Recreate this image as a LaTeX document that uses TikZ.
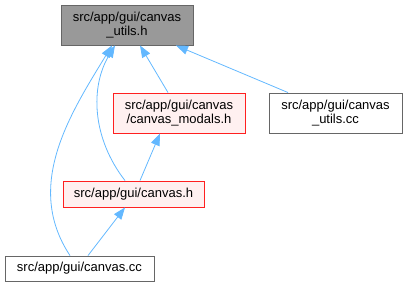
\documentclass[tikz,border=0pt]{standalone}
\usepackage{fontspec}
\setmainfont{Liberation Sans}
\usetikzlibrary{arrows.meta}
\definecolor{edgeblue}{HTML}{63B8FF}
\definecolor{hdrfill}{HTML}{999999}
\definecolor{hdrline}{HTML}{666666}
\definecolor{redfill}{HTML}{FFF0F0}
\definecolor{redline}{HTML}{FF2020}
\definecolor{plainline}{HTML}{666666}
\tikzset{
  filebox/.style={rectangle, inner sep=0pt, align=center, line width=0.9pt,
    font=\fontsize{13}{14.5}\selectfont},
  hdrbox/.style={filebox, fill=hdrfill, draw=hdrline},
  redbox/.style={filebox, fill=redfill, draw=redline},
  plainbox/.style={filebox, fill=white, draw=plainline},
  dep/.style={draw=edgeblue, line width=0.8pt,
    -{Triangle[length=12pt,width=9pt]}}
}
\begin{document}
\begin{tikzpicture}[x=1pt,y=-1pt]
\useasboundingbox (0,0) rectangle (407,287);

% files
\node[hdrbox, minimum width=132pt, minimum height=40pt] (utils) at (127,25)
  {src/app/gui/canvas\\\_utils.h};
\node[redbox, minimum width=132pt, minimum height=40pt] (modals) at (179,113)
  {src/app/gui/canvas\\/canvas\_modals.h};
\node[plainbox, minimum width=133pt, minimum height=40pt] (utilscc) at (335.5,113)
  {src/app/gui/canvas\\\_utils.cc};
\node[redbox, minimum width=141pt, minimum height=26pt] (canvash) at (133.5,194)
  {src/app/gui/canvas.h};
\node[plainbox, minimum width=149pt, minimum height=25pt] (canvascc) at (79.5,268.5)
  {src/app/gui/canvas.cc};

% include dependencies
\draw[dep] ([xshift=-11pt]modals.north) -- ([xshift=13pt]utils.south);
\draw[dep] ([xshift=-47.5pt]utilscc.north) -- ([xshift=49pt]utils.south);
\draw[dep] ([xshift=6.5pt]canvash.north) -- ([xshift=-19pt]modals.south);
\draw[dep] ([xshift=-8.5pt]canvash.north) .. controls (92,138) and (90,87) .. ([xshift=-12pt]utils.south);
\draw[dep] ([xshift=-9.5pt]canvascc.north) .. controls (24,186) and (69.5,115) .. ([xshift=-15pt]utils.south);
\draw[dep] ([xshift=8.5pt]canvascc.north) -- ([xshift=-8.5pt]canvash.south);
\end{tikzpicture}
\end{document}
